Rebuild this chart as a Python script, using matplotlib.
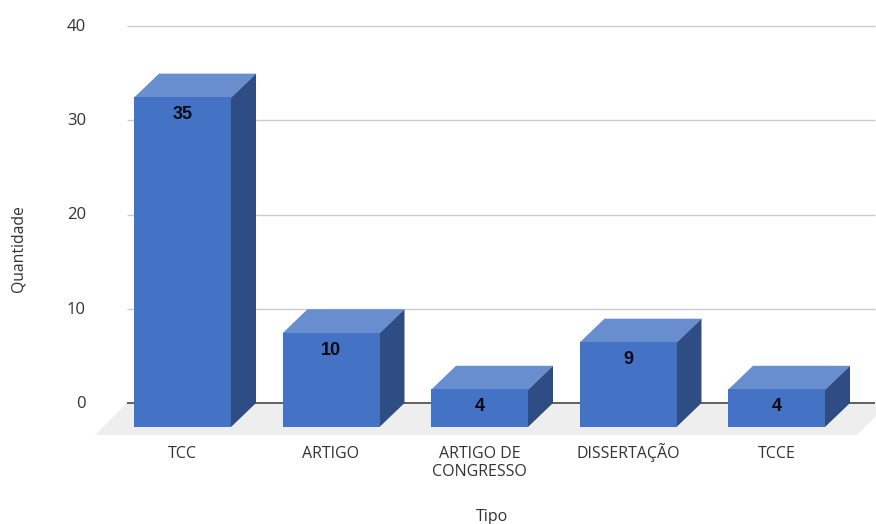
import matplotlib
matplotlib.use("Agg")
import matplotlib.pyplot as plt
from matplotlib.patches import Polygon

categories = ["TCC", "ARTIGO", "ARTIGO DE\nCONGRESSO", "DISSERTAÇÃO", "TCCE"]
values = [35, 10, 4, 9, 4]
y_ticks = [0, 10, 20, 30, 40]

W, H = 876, 524
FRONT, TOP, SIDE = "#4472c4", "#698ed0", "#2e4d85"
FLOOR, GRID, ZERO, TEXT = "#eeeeee", "#cccccc", "#555555", "#333333"

fig = plt.figure(figsize=(W / 100, H / 100), dpi=100, facecolor="white")
L, R, T, B = 127, 876, 26, 403
ax = fig.add_axes([L / W, 1 - B / H, (R - L) / W, (B - T) / H])

ux, uy = 148.5, (B - T) / 40            # px per category, px per unit
ax.set_xlim((L - 182.5) / ux, (R - 182.5) / ux)
ax.set_ylim(0, 40)
ax.patch.set_visible(False)
for s in ax.spines.values():
    s.set_visible(False)

width = 97 / ux
dx, dy = 25 / ux, 24 / uy               # depth of the 3D extrusion
base = -24 / uy                         # front face starts below the zero line
floor = -32 / uy
px = lambda p: (p - 182.5) / ux         # horizontal pixel to category position

x = list(range(len(categories)))

# floor
ax.add_patch(Polygon([(px(95), floor), (px(127), 0), (px(889), 0), (px(857), floor)],
                     closed=True, fc=FLOOR, ec="none", zorder=1, clip_on=False))

# grid
for t in y_ticks:
    ax.plot([px(127), px(875)], [t, t],
            color=ZERO if t == 0 else GRID, lw=1.3 if t == 0 else 1.0,
            zorder=2, clip_on=False, solid_capstyle="butt")

# bars
ax.bar(x, values, width=width, bottom=base, color=FRONT, zorder=5, clip_on=False)
for xi, v in zip(x, values):
    l, r, t = xi - width / 2, xi + width / 2, base + v - 1 / uy * 0.5
    ax.add_patch(Polygon([(l, t), (r, t), (r + dx, t + dy), (l + dx, t + dy)],
                         closed=True, fc=TOP, ec="none", zorder=4, clip_on=False))
    ax.add_patch(Polygon([(r, base), (r + dx, base + dy), (r + dx, t + dy), (r, t)],
                         closed=True, fc=SIDE, ec="none", zorder=4, clip_on=False))
    ax.text(xi, t - 17 / uy, str(v), ha="center", va="center", zorder=6,
            family="Liberation Sans", weight="bold", fontsize=13, color="#0a0a14")

# axes text
ax.set_xticks([])
ax.set_yticks([])
font = dict(family="Open Sans", color=TEXT)
for t in y_ticks:
    ax.text(px(86), t - 1 / uy, str(t), ha="right", va="center", fontsize=12, **font)
for xi, c in zip(x, categories):
    for i, line in enumerate(c.split("\n")):
        ax.text(xi, (B - 458 - 18.5 * i) / uy, line, ha="center", va="baseline", fontsize=11.5, **font)
fig.text(19 / W, 1 - 249 / H, "Quantidade", rotation=90, ha="center", va="center", fontsize=11.3, **font)
fig.text(492 / W, 1 - 521 / H, "Tipo", ha="center", va="baseline", fontsize=11.5, **font)

fig.savefig("out.png", dpi=100, facecolor="white")
